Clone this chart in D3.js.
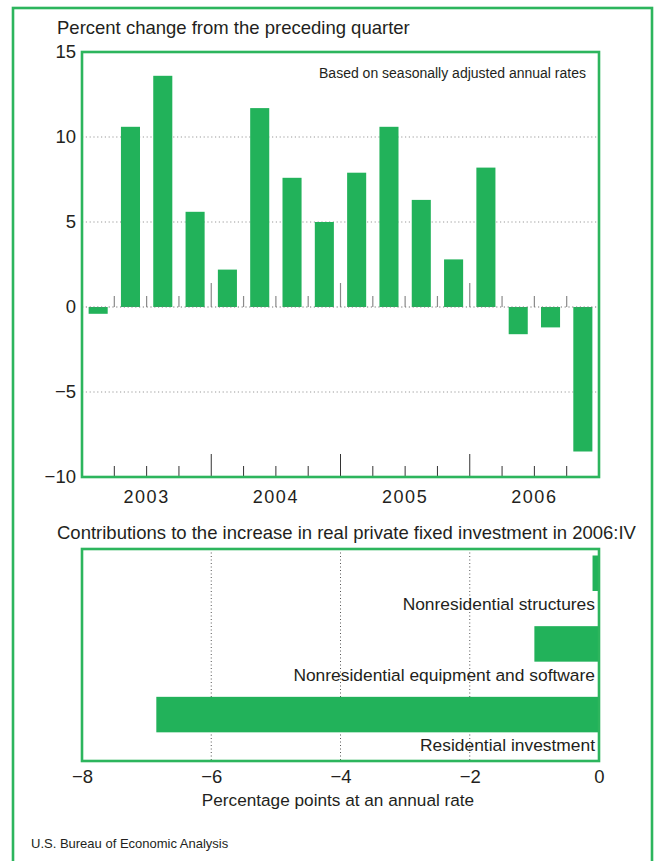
<!DOCTYPE html>
<html><head><meta charset="utf-8">
<script src="https://cdn.jsdelivr.net/npm/d3@7"></script>
<style>
html,body{margin:0;padding:0;background:#fff;}
svg text{font-family:"Liberation Sans",Arial,Helvetica,sans-serif;fill:#231f20;}
</style></head><body>
<svg id="c" width="657" height="861"></svg>
<script>
// ---- data ----
const quarters = ["2003:I","2003:II","2003:III","2003:IV","2004:I","2004:II","2004:III","2004:IV",
                  "2005:I","2005:II","2005:III","2005:IV","2006:I","2006:II","2006:III","2006:IV"];
const pctChange = [-0.4, 10.6, 13.6, 5.6, 2.2, 11.7, 7.6, 5.0, 7.9, 10.6, 6.3, 2.8, 8.2, -1.6, -1.2, -8.5];
const years = ["2003","2004","2005","2006"];
const yTicks = [15, 10, 5, 0, -5, -10];
const gridTicks = [10, 5, -5];
const components = ["Nonresidential structures","Nonresidential equipment and software","Residential investment"];
const contributions = [-0.1, -1.0, -6.85];
const xTicks = [-8, -6, -4, -2, 0];
const xGrid = [-6, -4, -2];

const GREEN = "#22b25a", FRAME = "#2db55d";
const fmt = v => v < 0 ? "\u2212" + Math.abs(v) : String(v);
const svg = d3.select("#c");

// outer frame
svg.append("rect").attr("x",13).attr("y",8).attr("width",639).attr("height",900)
   .attr("fill","none").attr("stroke",FRAME).attr("stroke-width",2.6);

// ---------- top chart ----------
const T = {l:82, r:599, t:52, b:477};
const x = d3.scaleBand().domain(quarters).range([T.l,T.r]).paddingInner(0.41).paddingOuter(0.205);
const xq = d3.scaleLinear().domain([0, quarters.length]).range([T.l,T.r]);
const y = d3.scaleLinear().domain([-10,15]).range([T.b,T.t]);

svg.append("text").attr("x",57).attr("y",34).attr("font-size",18.5).text("Percent change from the preceding quarter");

// gridlines
svg.append("g").selectAll("line").data(gridTicks).join("line")
  .attr("x1",T.l).attr("x2",T.r).attr("y1",d=>y(d)).attr("y2",d=>y(d))
  .attr("stroke","#9a9a9a").attr("stroke-width",1.2).attr("stroke-dasharray","1.2,2.6");

// quarter ticks on zero line and bottom
const qIdx = d3.range(1, quarters.length);
svg.append("g").selectAll("line").data(qIdx).join("line")
  .attr("x1",d=>xq(d)).attr("x2",d=>xq(d))
  .attr("y1",y(0)).attr("y2",d=> y(0) - (d%4===0 ? 24 : 11))
  .attr("stroke","#8a8a8a").attr("stroke-width",1.2);
svg.append("g").selectAll("line").data(qIdx).join("line")
  .attr("x1",d=>xq(d)).attr("x2",d=>xq(d))
  .attr("y1",T.b).attr("y2",d=> T.b - (d%4===0 ? 23 : 11))
  .attr("stroke","#333").attr("stroke-width",1);

// bars
svg.append("g").selectAll("rect").data(quarters).join("rect")
  .attr("x",d=>x(d)).attr("width",x.bandwidth())
  .attr("y",(d,i)=>y(Math.max(0,pctChange[i])))
  .attr("height",(d,i)=>Math.abs(y(pctChange[i])-y(0)))
  .attr("fill",GREEN);

// zero line
svg.append("line").attr("x1",T.l).attr("x2",T.r).attr("y1",y(0)).attr("y2",y(0))
  .attr("stroke","#777").attr("stroke-width",1.2).attr("stroke-dasharray","1.2,2.6");

// y axis labels
const ya = svg.append("g").attr("transform",`translate(${T.l},0)`)
  .call(d3.axisLeft(y).tickValues(yTicks).tickSize(0).tickPadding(6).tickFormat(fmt));
ya.select(".domain").remove();
ya.selectAll("text").attr("font-size",18.5).attr("fill","#231f20")
  .attr("font-family","'Liberation Sans',Arial,sans-serif");

// year labels
const yr = d3.scaleBand().domain(years).range([T.l,T.r]);
svg.append("g").selectAll("text").data(years).join("text")
  .attr("x",d=>yr(d)+yr.bandwidth()/2).attr("y",503).attr("text-anchor","middle")
  .attr("font-size",18).attr("letter-spacing","1.5px").text(d=>d);

svg.append("text").attr("x",586).attr("y",78).attr("text-anchor","end")
  .attr("font-size",14).attr("font-family","'Liberation Sans Narrow','Liberation Sans',Arial,sans-serif")
  .text("Based on seasonally adjusted annual rates");

svg.append("rect").attr("x",T.l).attr("y",T.t).attr("width",T.r-T.l).attr("height",T.b-T.t)
  .attr("fill","none").attr("stroke",FRAME).attr("stroke-width",2.6);

// ---------- bottom chart ----------
const B = {l:82, r:599, t:549, b:761};
svg.append("text").attr("x",57).attr("y",539).attr("font-size",18.5)
  .text("Contributions to the increase in real private fixed investment in 2006:IV");

const xb = d3.scaleLinear().domain([-8,0]).range([B.l,B.r]);
const yb = d3.scaleBand().domain(components).range([B.t,B.b]);

svg.append("g").selectAll("line").data(xGrid).join("line")
  .attr("x1",d=>xb(d)).attr("x2",d=>xb(d)).attr("y1",B.t).attr("y2",B.b)
  .attr("stroke","#555").attr("stroke-width",1).attr("stroke-dasharray","1,2.5");

svg.append("g").selectAll("rect").data(components).join("rect")
  .attr("x",(d,i)=>xb(Math.min(0,contributions[i])))
  .attr("width",(d,i)=>Math.abs(xb(contributions[i])-xb(0)))
  .attr("y",d=>yb(d)+6.5).attr("height",35.5)
  .attr("fill",GREEN);

svg.append("g").selectAll("text").data(components).join("text")
  .attr("x",B.r-4).attr("y",d=>yb(d)+61).attr("text-anchor","end")
  .attr("font-size",17.4).text(d=>d);

svg.append("rect").attr("x",B.l).attr("y",B.t).attr("width",B.r-B.l).attr("height",B.b-B.t)
  .attr("fill","none").attr("stroke",FRAME).attr("stroke-width",2.6);

const xa = svg.append("g").attr("transform",`translate(0,${B.b})`)
  .call(d3.axisBottom(xb).tickValues(xTicks).tickSize(0).tickPadding(9).tickFormat(fmt));
xa.select(".domain").remove();
xa.selectAll("text").attr("font-size",18.5).attr("fill","#231f20")
  .attr("font-family","'Liberation Sans',Arial,sans-serif");

svg.append("text").attr("x",338).attr("y",806).attr("text-anchor","middle")
  .attr("font-size",17.2).text("Percentage points at an annual rate");

svg.append("text").attr("x",31).attr("y",848)
  .attr("font-size",13).attr("font-family","'Liberation Sans Narrow','Liberation Sans',Arial,sans-serif")
  .text("U.S. Bureau of Economic Analysis");
</script></body></html>
